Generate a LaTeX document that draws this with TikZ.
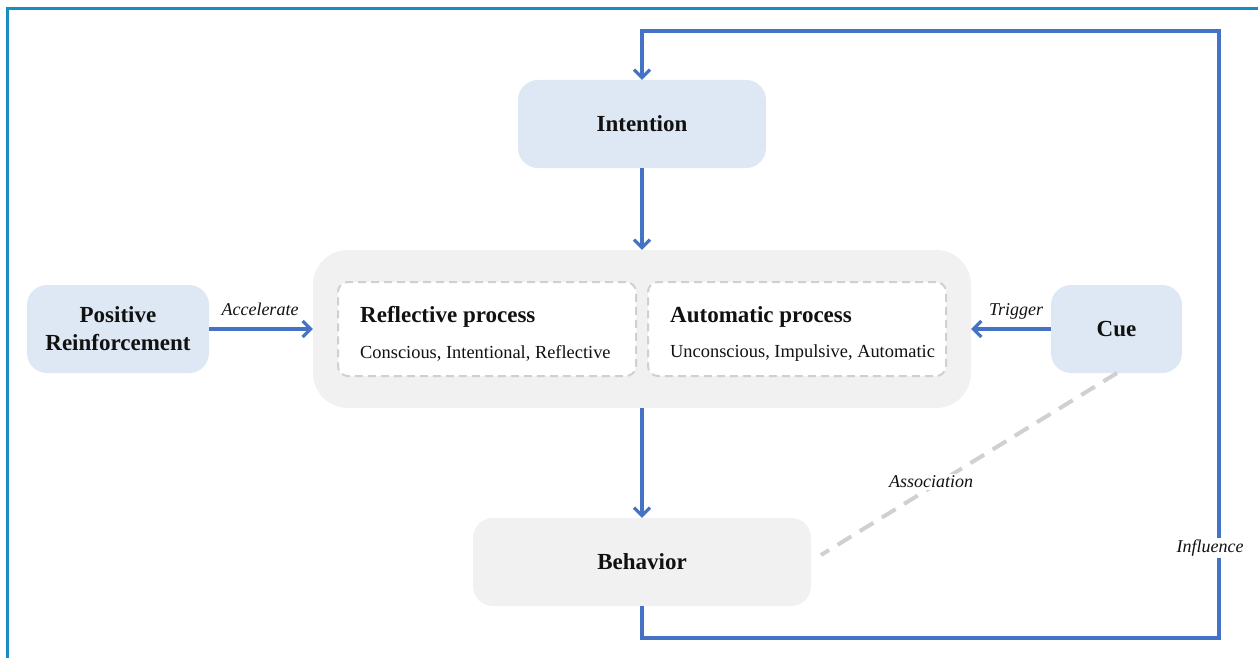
\documentclass[tikz,border=0pt]{standalone}
\usepackage{fontspec}
\setmainfont{Liberation Serif}
\usetikzlibrary{arrows.meta}
\definecolor{boxblue}{HTML}{DDE8F4}
\definecolor{boxgray}{HTML}{F1F1F1}
\definecolor{dashgray}{HTML}{D0D0D0}
\definecolor{arrowblue}{HTML}{4472C4}
\definecolor{framecol}{HTML}{1A8CC4}
\definecolor{txt}{HTML}{111111}
\tikzset{
  bluebox/.style={fill=boxblue, draw=none, rounded corners=20pt, text=txt, font=\fontsize{23}{28}\selectfont\bfseries, align=center},
  graybox/.style={fill=boxgray, draw=none, rounded corners=20pt, text=txt, font=\fontsize{23}{28}\selectfont\bfseries, align=center},
  procbox/.style={fill=white, draw=dashgray, line width=2pt, dash pattern=on 8pt off 5pt, rounded corners=10pt, minimum width=298pt, minimum height=94pt},
  flow/.style={draw=arrowblue, line width=3.2pt, -{Straight Barb[length=8pt,width=16pt,line width=3.2pt]}},
  lbl/.style={font=\fontsize{18}{20}\selectfont\itshape, text=txt, inner sep=2pt},
  ptitle/.style={font=\fontsize{23}{26}\selectfont\bfseries, text=txt, anchor=west, inner sep=0pt},
  psub/.style={font=\fontsize{18.4}{20}\selectfont, text=txt, anchor=west, inner sep=0pt},
}
\begin{document}
\begin{tikzpicture}[x=1pt,y=-1pt]
\useasboundingbox (0,0) rectangle (1258,658);
\fill[white] (0,0) rectangle (1258,658);
% frame
\draw[framecol, line width=3pt] (7,658) -- (7,9) -- (1258,9);

% nodes
\node[bluebox, minimum width=248pt, minimum height=88pt] (int) at (642,124) {Intention};
\node[fill=boxgray, rounded corners=35pt, minimum width=658pt, minimum height=158pt] (cont) at (642,329) {};
\node[procbox] (refl) at (487,329) {};
\node[procbox] (auto) at (797,329) {};
\node[ptitle] (reflt) at (360,317) {Reflective process};
\node[psub] (refls) at (360,353) {Conscious, Intentional, Reflective};
\node[ptitle] (autot) at (670,317) {Automatic process};
\node[psub] (autos) at (670,353) {Unconscious, Impulsive, Automatic};
\node[bluebox, minimum width=182pt, minimum height=88pt] (pr) at (118,329) {Positive\\Reinforcement};
\node[bluebox, minimum width=131pt, minimum height=88pt] (cue) at (1116.5,329) {Cue};
\node[graybox, minimum width=338pt, minimum height=88pt] (beh) at (642,562) {Behavior};

% association
\coordinate (asA) at (1117,373);
\coordinate (asB) at (821,555);
\draw[dashgray, line width=4pt, dash pattern=on 16pt off 10pt] (asA) -- (asB);
\node[lbl, fill=white] (assoc) at (931,482) {Association};

% arrows
\draw[flow] (int.south) -- (cont.north);
\draw[flow] (cont.south) -- (beh.north);
\draw[flow] (pr.east) -- (cont.west);
\node[lbl] (acc) at (260,309) {Accelerate};
\draw[flow] (cue.west) -- (cont.east);
\node[lbl] (trig) at (1016,311) {Trigger};

% influence loop
\coordinate (c1) at (642,638);
\coordinate (c2) at (1219,638);
\coordinate (c3) at (1219,31);
\coordinate (c4) at (642,31);
\draw[flow] (beh.south) -- (c1) -- (c2) -- (c3) -- (c4) -- (int.north);
\node[lbl, fill=white] (infl) at (1210,548) {Influence};
\end{tikzpicture}
\end{document}
